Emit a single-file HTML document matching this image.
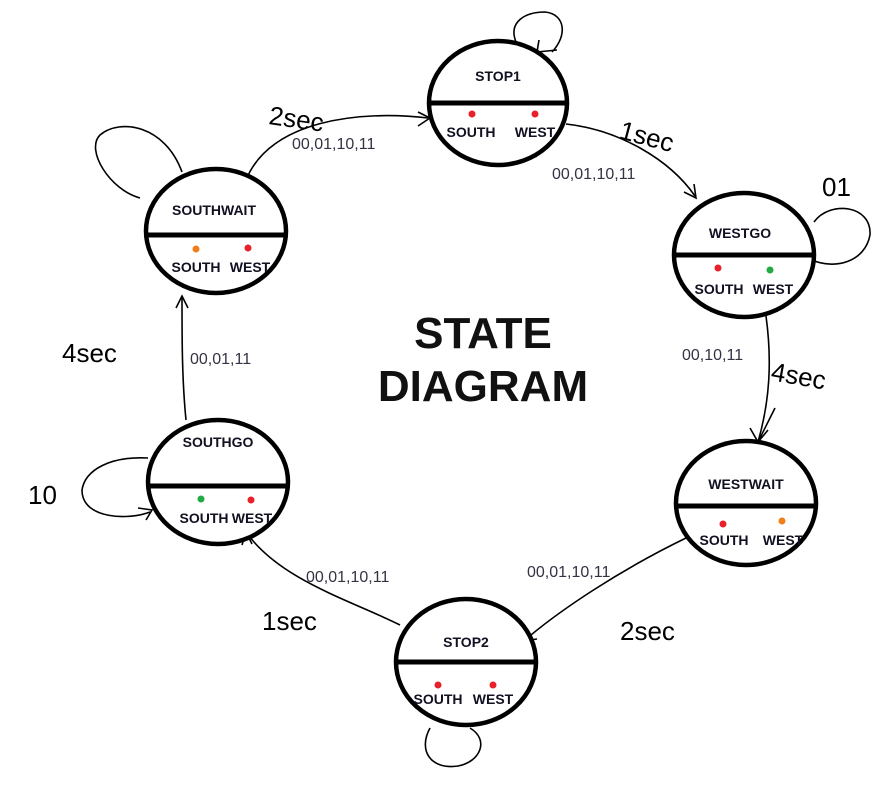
<!DOCTYPE html>
<html><head><meta charset="utf-8"><style>
html,body{margin:0;padding:0;background:#fff}
svg{display:block}
.st{font-family:"Liberation Sans",sans-serif;font-weight:bold;font-size:14px;fill:#111122}
.lb{font-family:"Liberation Sans",sans-serif;font-size:16px;fill:#333344}
.hw{font-family:"Liberation Sans",sans-serif;font-size:26px;fill:#000;font-weight:normal}
</style></head><body>
<svg width="884" height="789" viewBox="0 0 884 789" xmlns="http://www.w3.org/2000/svg">
<g fill="none" stroke="#000" stroke-width="1.6">
<!-- self loops -->
<path d="M516 42 C508 22 525 12 545 12 C565 14 568 35 552 52"/>
<path d="M537 52 l20 -2 M537 52 l2 -12"/>
<path d="M140 198 C110 190 85 150 100 135 C120 118 165 125 182 172"/>
<path d="M812 260 C835 270 865 262 870 235 C872 205 830 200 814 222"/>
<path d="M148 458 C110 456 85 470 82 490 C82 520 130 520 150 512"/>
<path d="M138 508 l14 2 -6 10"/>
<path d="M430 728 C418 750 430 770 458 766 C480 762 490 740 470 728"/>
<!-- transitions -->
<path d="M246 180 C270 120 360 110 428 118"/>
<path d="M418 112 l12 6 -12 8"/>
<path d="M566 124 C620 130 670 160 695 196"/>
<path d="M684 192 l12 6 -2 -14"/>
<path d="M766 316 C772 360 770 400 758 442"/>
<path d="M750 428 l8 14 10 -12 M775 408 l-17 34"/>
<path d="M686 538 C620 570 560 610 525 640"/>
<path d="M523 627 l0 14 14 -2"/>
<path d="M400 625 C350 600 280 580 246 532"/>
<path d="M242 545 l4 -13 6 12"/>
<path d="M186 420 C182 380 182 340 182 296"/>
<path d="M176 308 l6 -12 6 12"/>
</g>
<!-- states -->
<g stroke="#000" stroke-width="4.5" fill="#fff">
<ellipse cx="498" cy="103" rx="69" ry="62"/>
<ellipse cx="744" cy="255" rx="70" ry="62"/>
<ellipse cx="746" cy="503" rx="70" ry="62"/>
<ellipse cx="466" cy="662" rx="70" ry="63"/>
<ellipse cx="218" cy="482" rx="70" ry="62"/>
<ellipse cx="216" cy="231" rx="70" ry="62"/>
</g>
<g stroke="#000" stroke-width="5">
<line x1="430" y1="103" x2="566" y2="103"/>
<line x1="675" y1="255" x2="813" y2="255"/>
<line x1="677" y1="506" x2="815" y2="506"/>
<line x1="397" y1="662" x2="535" y2="662"/>
<line x1="149" y1="486" x2="287" y2="486"/>
<line x1="147" y1="235" x2="285" y2="235"/>
</g>
<g class="st">
<text x="498" y="81" text-anchor="middle">STOP1</text>
<text x="471" y="137" text-anchor="middle">SOUTH</text><text x="535" y="137" text-anchor="middle">WEST</text>
<text x="740" y="238" text-anchor="middle">WESTGO</text>
<text x="719" y="294" text-anchor="middle">SOUTH</text><text x="773" y="294" text-anchor="middle">WEST</text>
<text x="746" y="489" text-anchor="middle">WESTWAIT</text>
<text x="724" y="545" text-anchor="middle">SOUTH</text><text x="783" y="545" text-anchor="middle">WEST</text>
<text x="466" y="647" text-anchor="middle">STOP2</text>
<text x="438" y="704" text-anchor="middle">SOUTH</text><text x="493" y="704" text-anchor="middle">WEST</text>
<text x="218" y="447" text-anchor="middle">SOUTHGO</text>
<text x="204" y="523" text-anchor="middle">SOUTH</text><text x="252" y="523" text-anchor="middle">WEST</text>
<text x="214" y="215" text-anchor="middle">SOUTHWAIT</text>
<text x="196" y="272" text-anchor="middle">SOUTH</text><text x="250" y="272" text-anchor="middle">WEST</text>
</g>
<g>
<circle cx="472" cy="114" r="3.5" fill="#e8202a"/><circle cx="535" cy="114" r="3.5" fill="#e8202a"/>
<circle cx="718" cy="268" r="3.5" fill="#e8202a"/><circle cx="770" cy="270" r="3.5" fill="#22aa44"/>
<circle cx="723" cy="524" r="3.5" fill="#e8202a"/><circle cx="782" cy="521" r="3.5" fill="#f07f1a"/>
<circle cx="438" cy="685" r="3.5" fill="#e8202a"/><circle cx="493" cy="685" r="3.5" fill="#e8202a"/>
<circle cx="201" cy="499" r="3.5" fill="#22aa44"/><circle cx="251" cy="500" r="3.5" fill="#e8202a"/>
<circle cx="196" cy="249" r="3.5" fill="#f07f1a"/><circle cx="248" cy="248" r="3.5" fill="#e8202a"/>
</g>
<g class="lb">
<text x="292" y="149">00,01,10,11</text>
<text x="552" y="179">00,01,10,11</text>
<text x="682" y="360">00,10,11</text>
<text x="527" y="577">00,01,10,11</text>
<text x="306" y="582">00,01,10,11</text>
<text x="190" y="364">00,01,11</text>
</g>
<g class="hw">
<text x="268" y="124" transform="rotate(8 268 124)">2sec</text>
<text x="618" y="138" transform="rotate(15 618 138)">1sec</text>
<text x="770" y="380" transform="rotate(10 770 380)">4sec</text>
<text x="620" y="640">2sec</text>
<text x="262" y="630">1sec</text>
<text x="62" y="362">4sec</text>
<text x="28" y="504">10</text>
<text x="822" y="196">01</text>
</g>
<g font-family="Liberation Sans,sans-serif" font-weight="bold" font-size="44" fill="#111" text-anchor="middle">
<text x="483" y="348">STATE</text>
<text x="483" y="401">DIAGRAM</text>
</g>
</svg>
</body></html>
